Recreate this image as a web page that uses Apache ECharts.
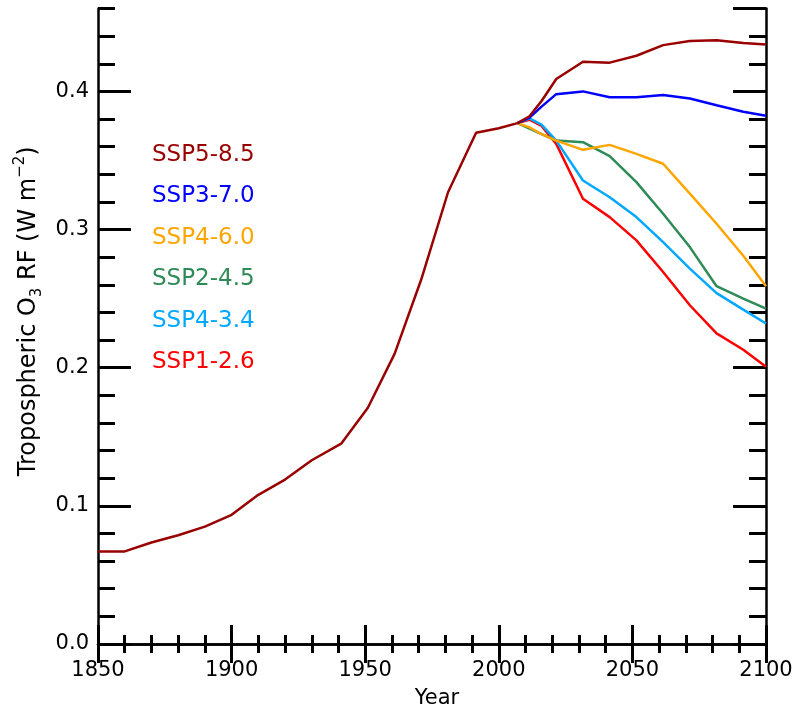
<!DOCTYPE html>
<html>
<head>
<meta charset="utf-8">
<script src="https://cdn.jsdelivr.net/npm/echarts@6/dist/echarts.min.js"></script>
<style>
html,body{margin:0;padding:0;background:#fff;}
#chart{width:797px;height:714px;}
</style>
</head>
<body>
<div id="chart"></div>
<script>
// ---- data ----
const histYears  = [1850, 1860, 1870, 1880, 1890, 1900, 1910, 1920, 1930, 1941, 1951, 1961, 1971, 1981, 1991.5, 2000, 2007];
const histValues = [0.067, 0.067, 0.0735, 0.0787, 0.085, 0.0935, 0.108, 0.119, 0.133, 0.145, 0.171, 0.210, 0.264, 0.327, 0.370, 0.3733, 0.377];

const scenYears = [2007, 2011.5, 2016, 2021.5, 2031.5, 2041.5, 2051.5, 2061.5, 2071.5, 2081.5, 2091.5, 2100];
const ssp585 = [0.377, 0.382, 0.393, 0.409, 0.4215, 0.4208, 0.4258, 0.4335, 0.4365, 0.437, 0.435, 0.434];
const ssp370 = [0.377, 0.381, 0.389, 0.398, 0.400, 0.3957, 0.3957, 0.3974, 0.3948, 0.390, 0.3853, 0.3824];
const ssp460 = [0.377, 0.374, 0.369, 0.3644, 0.3577, 0.3613, 0.3548, 0.3476, 0.326, 0.3042, 0.281, 0.259];
const ssp245 = [0.377, 0.373, 0.369, 0.3644, 0.3632, 0.3532, 0.3343, 0.3114, 0.2873, 0.259, 0.250, 0.2428];
const ssp434 = [0.377, 0.3805, 0.376, 0.3644, 0.3355, 0.3234, 0.309, 0.2909, 0.2717, 0.254, 0.242, 0.232];
const ssp126 = [0.377, 0.3795, 0.375, 0.362, 0.3223, 0.309, 0.2922, 0.2693, 0.2452, 0.2248, 0.213, 0.2007];

const scenNames  = ['SSP5-8.5', 'SSP3-7.0', 'SSP4-6.0', 'SSP2-4.5', 'SSP4-3.4', 'SSP1-2.6'];
const scenValues = [ssp585, ssp370, ssp460, ssp245, ssp434, ssp126];
const scenColors = ['#990000', '#0000ff', '#ffa500', '#2e8b57', '#00a8ff', '#ff0000'];

const xMin = 1850, xMax = 2100, xStep = 50;
const yMin = 0, yMax = 0.46, yStep = 0.1, yMinorStep = 0.02;

// ---- chart ----
const FONT = 'DejaVu Sans';
const chart = echarts.init(document.getElementById('chart'), null, {renderer: 'canvas'});

function pairs(xs, ys) { return xs.map((x, i) => [x, ys[i]]); }

const series = [];
scenNames.forEach((n, i) => {
  series.push({
    name: n, type: 'line', data: pairs(scenYears, scenValues[i]),
    showSymbol: false, symbol: 'none', z: 3 + (scenNames.length - i),
    lineStyle: {color: scenColors[i], width: 2.5},
    itemStyle: {color: scenColors[i]}
  });
});
series.push({
  name: 'hist', type: 'line', data: pairs(histYears, histValues),
  showSymbol: false, symbol: 'none', z: 10,
  lineStyle: {color: scenColors[0], width: 2.5},
  itemStyle: {color: scenColors[0]}
});

const axisLineStyle = {color: '#000', width: 2.5};
const tickStyle = {color: '#000', width: 3};

const option = {
  animation: false,
  backgroundColor: '#fff',
  grid: {left: 98, right: 31, top: 8.5, bottom: 69.5, containLabel: false},
  legend: {
    orient: 'vertical', left: 142, top: 138,
    icon: 'none', itemWidth: 0, itemHeight: 14, itemGap: 17.5,
    selectedMode: false,
    textStyle: {fontFamily: FONT, fontSize: 23, lineHeight: 24},
    data: scenNames.map((n, i) => ({name: n, textStyle: {color: scenColors[i]}}))
  },
  xAxis: [
    {
      type: 'value', min: xMin, max: xMax, interval: xStep, position: 'bottom',
      name: 'Year', nameLocation: 'middle', nameGap: 44,
      nameTextStyle: {fontFamily: FONT, fontSize: 21, color: '#000', padding: [0, 0, 0, 10]},
      axisLine: {show: true, lineStyle: axisLineStyle},
      axisTick: {show: true, inside: true, length: 19, lineStyle: tickStyle},
      minorTick: {show: true, splitNumber: 5, length: 9, lineStyle: tickStyle},
      axisLabel: {fontFamily: FONT, fontSize: 21, color: '#000', margin: 16, formatter: v => String(v)},
      splitLine: {show: false}, minorSplitLine: {show: false}
    },
    {
      type: 'value', min: xMin, max: xMax, interval: xStep, position: 'top',
      axisLine: {show: true, lineStyle: axisLineStyle},
      axisTick: {show: true, inside: true, length: 19, lineStyle: tickStyle},
      minorTick: {show: true, splitNumber: 5, length: 9, lineStyle: tickStyle},
      axisLabel: {show: false},
      splitLine: {show: false}
    }
  ],
  yAxis: [
    {
      type: 'value', min: yMin, max: yMax, interval: yStep, position: 'left',
      name: '{a|Tropospheric O}{sub|3}{a| RF (W m}{sup|−2}{a|)}',
      nameLocation: 'middle', nameGap: 52, nameRotate: 90,
      nameTextStyle: {
        fontFamily: FONT, fontSize: 24, color: '#000', padding: [0, 0, 0, 30],
        rich: {
          a: {fontFamily: FONT, fontSize: 24, color: '#000', lineHeight: 32},
          sub: {fontFamily: FONT, fontSize: 15, color: '#000', verticalAlign: 'bottom', lineHeight: 15},
          sup: {fontFamily: FONT, fontSize: 15, color: '#000', verticalAlign: 'top', lineHeight: 15}
        }
      },
      axisLine: {show: true, lineStyle: axisLineStyle},
      axisTick: {show: true, inside: true, length: 33, lineStyle: tickStyle},
      axisLabel: {fontFamily: FONT, fontSize: 21, color: '#000', margin: 9, showMaxLabel: false,
                  formatter: v => v.toFixed(1)},
      splitLine: {show: false}
    },
    {
      type: 'value', min: yMin, max: yMax, interval: yMinorStep, position: 'left',
      axisLine: {show: false},
      axisTick: {show: true, inside: true, length: 17, lineStyle: tickStyle},
      axisLabel: {show: false}, splitLine: {show: false}
    },
    {
      type: 'value', min: yMin, max: yMax, interval: yStep, position: 'right',
      axisLine: {show: true, lineStyle: axisLineStyle},
      axisTick: {show: true, inside: true, length: 33, lineStyle: tickStyle},
      axisLabel: {show: false}, splitLine: {show: false}
    },
    {
      type: 'value', min: yMin, max: yMax, interval: yMinorStep, position: 'right',
      axisLine: {show: false},
      axisTick: {show: true, inside: true, length: 17, lineStyle: tickStyle},
      axisLabel: {show: false}, splitLine: {show: false}
    }
  ],
  series: series
};
chart.setOption(option);
</script>
</body>
</html>
